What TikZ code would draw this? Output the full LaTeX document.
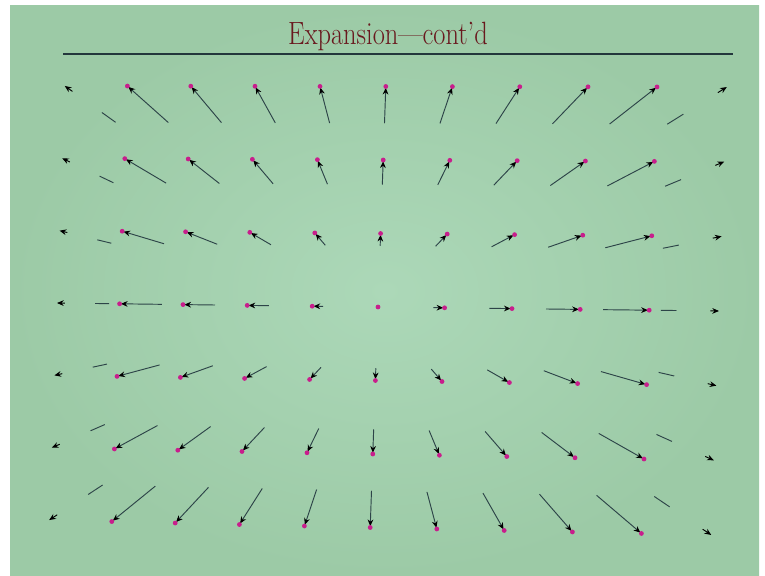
\documentclass[tikz,border=0pt]{standalone}
\usetikzlibrary{arrows.meta,calc}
\definecolor{slidegreen}{RGB}{156,202,166}
\definecolor{slidelight}{RGB}{172,216,184}
\definecolor{titlered}{RGB}{105,24,30}
\definecolor{rulegray}{RGB}{35,55,60}
\definecolor{shaftgray}{RGB}{45,68,72}
\definecolor{pinmagenta}{RGB}{200,30,140}

\begin{document}
\begin{tikzpicture}[
    x=0.3mm, y=-0.3mm,
    declare function={px(\x,\y)=378+66.2*\x+0.4*\x*\x-2.6*\y;
                      py(\x,\y)=307+0.8*\x+73.5*\y+0.23*\x*\y;},
    vec/.style={draw=shaftgray, line width=0.8pt, shorten >=0.4mm,
      -{Stealth[length=2mm, width=1.7mm, color=black]}},
    stub/.style={draw=shaftgray, line width=0.8pt},
    head/.style={draw=black, line width=0.8pt, -{Stealth[length=2mm, width=1.7mm]}},
    tipdot/.style={fill=pinmagenta}
  ]
  \useasboundingbox[fill=white] (0,0) rectangle (765,576);
  \shade[inner color=slidelight, outer color=slidegreen] (10,6) rectangle (759,576);

  \node[anchor=base, text=titlered, font=\fontsize{27.5}{33}\selectfont] (title) at (388,45)
    {\scalebox{0.82}[1]{Expansion—cont’d}};
  \coordinate (rulestart) at (63,54);
  \coordinate (ruleend) at (733,54);
  \draw[rulegray, line width=1.3pt] (rulestart) -- (ruleend);

  \foreach \i in {-5,...,5}
    \foreach \j in {-3,...,3} {
      \coordinate (tip\i_\j) at ({px(\i,\j)},{py(\i,\j)});
      \coordinate (tail\i_\j) at ({px(\i/1.2,\j/1.2)},{py(\i/1.2,\j/1.2)});
    }

  \foreach \i in {-4,...,4}
    \foreach \j in {-3,...,3} {
      \ifnum\numexpr\i*\i+\j*\j\relax>0
        \draw[vec] (tail\i_\j) -- (tip\i_\j);
      \fi
      \fill[tipdot] (tip\i_\j) circle (2.4);
    }

  \foreach \i in {-5,5}
    \foreach \j in {-3,...,3} {
      \draw[stub] (tail\i_\j) -- ($(tail\i_\j)!0.27!(tip\i_\j)$);
      \draw[head] ($(tail\i_\j)!0.85!(tip\i_\j)$) -- (tip\i_\j);
    }
\end{tikzpicture}
\end{document}
